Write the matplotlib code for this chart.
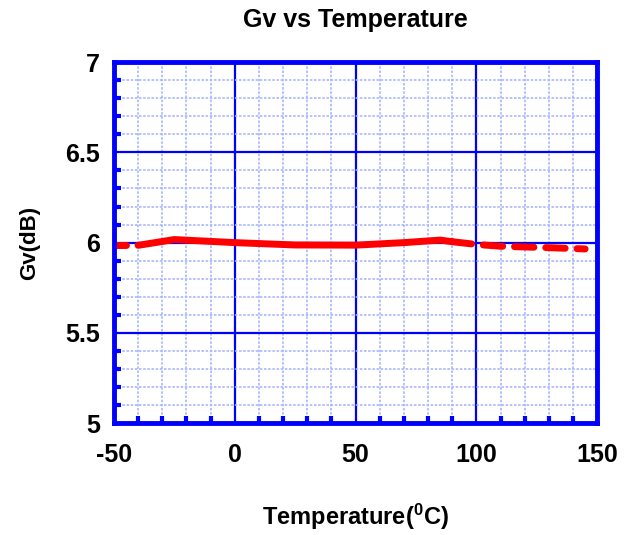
"""Gv vs Temperature chart"""

import matplotlib
matplotlib.use('Agg')
import matplotlib.pyplot as plt
from matplotlib.ticker import MultipleLocator

temp_cold = [-50, -45]
gv_cold = [5.985, 5.985]
temp_mid = [-40, -25, 0, 25, 50, 70, 85, 90]
gv_mid = [5.985, 6.017, 6.0, 5.987, 5.986, 6.0, 6.014, 6.005]
temp_hot = [90, 100, 110, 120, 130, 145]
gv_hot = [6.005, 5.99, 5.98, 5.976, 5.972, 5.965]

x_ticks = [-50, 0, 50, 100, 150]
y_ticks = [5, 5.5, 6, 6.5, 7]
y_tick_labels = ['5', '5.5', '6', '6.5', '7']

plt.rcParams['font.family'] = ['Liberation Sans', 'DejaVu Sans']
plt.rcParams['font.weight'] = 'bold'
plt.rcParams['axes.unicode_minus'] = False
plt.rcParams['mathtext.fontset'] = 'custom'
plt.rcParams['mathtext.rm'] = 'Liberation Sans:bold'
plt.rcParams['mathtext.default'] = 'rm'

blue = '#0000ff'
red = '#ff0000'

fig = plt.figure(figsize=(6.26, 5.35), dpi=100)
ax = fig.add_axes([0.182, 0.209, 0.772, 0.675])

ax.set_xlim(-50, 150)
ax.set_ylim(5, 7)
ax.set_xticks(x_ticks)
ax.set_yticks(y_ticks)
ax.set_yticklabels(y_tick_labels)
ax.xaxis.set_minor_locator(MultipleLocator(10))
ax.yaxis.set_minor_locator(MultipleLocator(0.1))

# grid: minor dotted light blue, major solid blue
ax.grid(which='minor', color='#a8b8ff', linestyle=(0, (1.5, 1)), linewidth=1.2)
ax.grid(which='major', color=blue, linestyle='-', linewidth=1.6)
ax.set_axisbelow(True)

ax.tick_params(which='major', length=0, labelsize=18)
ax.tick_params(axis='x', which='major', pad=14)
ax.tick_params(axis='y', which='major', pad=10)
ax.tick_params(which='minor', direction='in', length=5, width=3, color=blue,
               top=False, right=False)

for side in ax.spines:
    ax.spines[side].set_color(blue)
    ax.spines[side].set_linewidth(3.5)

ax.plot(temp_cold, gv_cold, color=red, linewidth=5, solid_capstyle='round')
ax.plot(temp_mid, gv_mid, color=red, linewidth=5, solid_capstyle='round')
ax.plot(temp_hot, gv_hot, color=red, linewidth=5, linestyle=(0, (2.8, 1.7)),
        dash_capstyle='round')

ax.set_title('Gv vs Temperature', fontsize=18, fontweight='bold', pad=25)
ax.set_xlabel('Temperature($^{0}$C)', fontsize=17, fontweight='bold', labelpad=25)
ax.set_ylabel('Gv(dB)', fontsize=16, fontweight='bold', labelpad=18)

fig.savefig('out.png', dpi=100)
